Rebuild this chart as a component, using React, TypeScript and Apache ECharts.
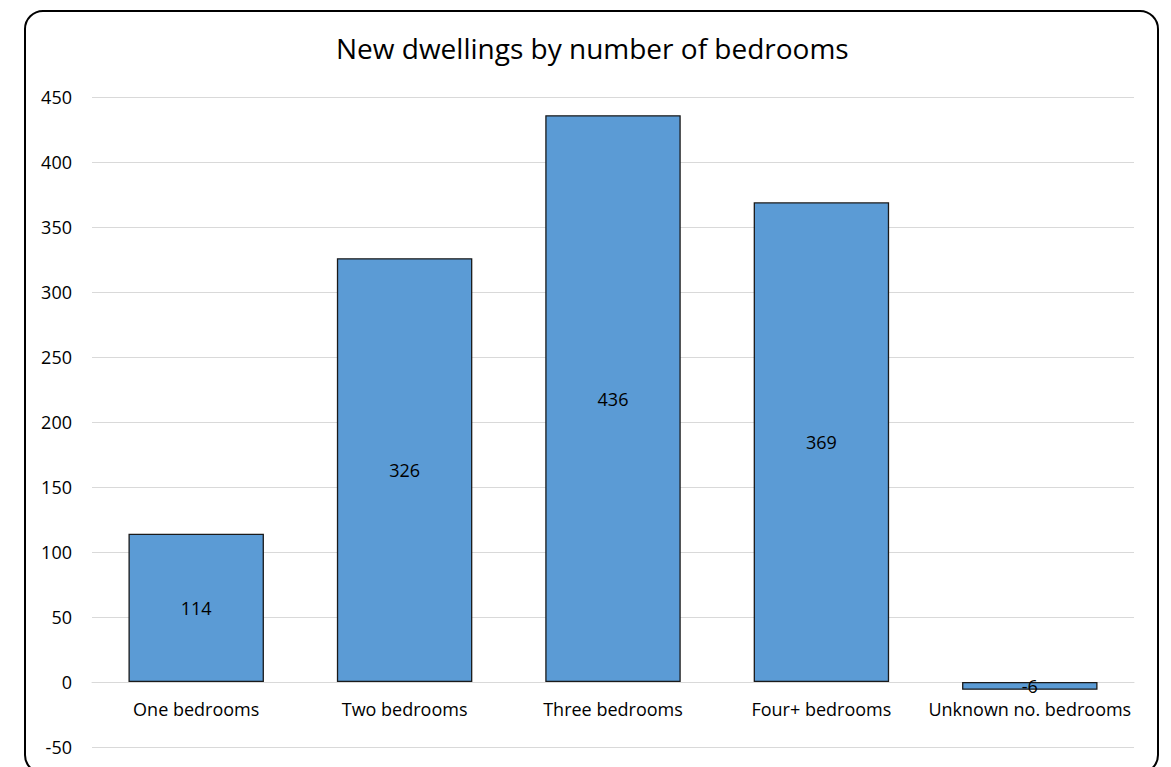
import React, { useEffect, useRef } from "react";
import * as echarts from "echarts";

const categories = ["One bedrooms", "Two bedrooms", "Three bedrooms", "Four+ bedrooms", "Unknown no. bedrooms"];
const values = [114, 326, 436, 369, -6];
const titleText = "New dwellings by number of bedrooms";

export default function App() {
  const ref = useRef<HTMLDivElement>(null);
  useEffect(() => {
    if (!ref.current) return;
    const chart = echarts.init(ref.current, undefined, { renderer: "svg" });
    const font = "Open Sans";
    chart.setOption({
      animation: false,
      backgroundColor: "#ffffff",
      title: {
        text: titleText,
        left: 336,
        top: 34,
        padding: 0,
        textStyle: { fontFamily: font, fontSize: 28, fontWeight: "normal", color: "#000" },
      },
      grid: { left: 92, right: 37, top: 97, bottom: 20, outerBoundsMode: "none", containLabel: false },
      xAxis: {
        type: "category",
        data: categories,
        axisLine: { onZero: true, lineStyle: { color: "#d9d9d9", width: 1 } },
        axisTick: { show: false },
        axisLabel: { fontFamily: font, fontSize: 18, color: "#000", margin: -47, interval: 0 },
      },
      yAxis: {
        type: "value",
        min: -50,
        max: 450,
        interval: 50,
        axisLine: { show: false },
        axisTick: { show: false },
        splitLine: { lineStyle: { color: "#d9d9d9", width: 1 } },
        axisLabel: { fontFamily: font, fontSize: 18, color: "#000", margin: 20 },
      },
      series: [
        {
          type: "bar",
          data: values,
          barWidth: "65%",
          itemStyle: { color: "#5b9bd5", borderColor: "#1a1a1a", borderWidth: 1.3 },
          label: {
            show: true,
            position: "inside",
            fontFamily: font,
            fontSize: 18,
            color: "#000",
          },
        },
      ],
      graphic: [
        {
          type: "rect",
          shape: { x: 25, y: 11, width: 1133, height: 762, r: 18 },
          style: { fill: "none", stroke: "#000", lineWidth: 2 },
          z: 100,
        },
      ],
    });
    return () => chart.dispose();
  }, []);
  return <div ref={ref} style={{ position: "fixed", left: 0, top: 0, width: 1171, height: 767 }} />;
}
